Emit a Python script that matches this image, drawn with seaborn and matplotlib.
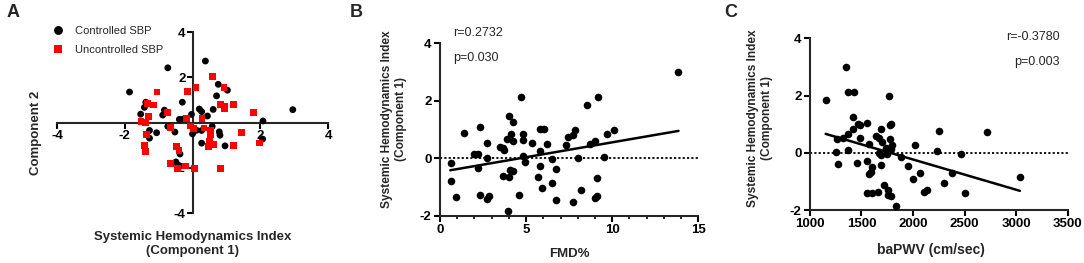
import matplotlib
matplotlib.use("Agg")
import matplotlib.pyplot as plt
from matplotlib.ticker import MultipleLocator
import seaborn as sns
import pandas as pd

# --- panel A: component scores by SBP control ---
ctrl_x = [-1.86, -0.73, 0.38, 0.76, 1.03, 0.71, -1.38, -1.42, -1.53, -0.83,
          -0.88, -0.30, -0.39, -0.29, -0.03, 0.20, 0.27, 0.44, 0.61, -0.73,
          -0.52, -1.06, -1.27, -1.27, 0.0, 0.12, 0.27, 0.58, 0.79, 0.81,
          0.27, 0.96, 2.08, 2.07, 2.96, -0.37, -0.49, -0.40]
ctrl_y = [1.35, 2.42, 2.72, 1.69, 1.43, 1.18, 0.90, 0.67, 0.37, 0.55,
          0.33, 0.90, 0.14, 0.15, 0.36, 0.60, 0.48, 0.29, 0.58, -0.17,
          -0.42, -0.45, -0.35, -0.69, -0.50, -0.34, -0.35, -0.17, -0.41, -0.56,
          -0.91, -1.03, 0.07, -0.73, 0.57, -1.39, -1.74, -1.90]
unctrl_x = [0.58, 0.93, 0.10, -0.15, -1.05, -1.32, -1.14, 0.83, 0.96, 0.94,
            1.22, 1.81, -0.73, -1.30, -1.52, -1.38, -1.36, -0.65, -0.17, -0.07,
            0.02, 0.28, 0.34, 0.52, 0.54, 0.50, 0.63, 0.47, 1.22, 1.45,
            1.98, -1.42, -1.38, -0.48, -0.40, -0.65, -0.44, -0.20, 0.07, 0.83]
unctrl_y = [2.04, 1.55, 1.54, 1.38, 1.35, 0.86, 0.78, 0.81, 0.70, 0.63,
            0.80, 0.43, 0.44, 0.26, 0.04, 0.0, -0.52, -0.23, 0.17, -0.15,
            -0.28, 0.18, -0.24, -0.33, -0.55, -0.82, -0.97, -1.07, -1.02, -0.43,
            -0.90, -1.0, -1.28, -1.07, -1.25, -1.81, -2.02, -1.92, -2.04, -2.02]

# --- panel B: FMD% vs component 1 ---
fmd = [0.62, 0.62, 0.91, 1.41, 1.99, 2.21, 2.21, 2.32, 2.32, 2.71,
       2.73, 2.71, 2.83, 3.50, 3.64, 3.74, 3.64, 4.03, 3.89, 4.10,
       4.22, 4.22, 4.03, 4.06, 4.25, 3.93, 4.72, 4.80, 4.80, 4.84,
       4.92, 4.61, 5.32, 5.71, 5.81, 5.83, 5.83, 6.02, 5.90, 6.21,
       6.52, 6.50, 6.72, 6.72, 7.30, 7.45, 7.74, 7.82, 7.70, 8.03,
       8.19, 8.52, 8.71, 8.98, 9.19, 9.14, 9.00, 9.14, 9.50, 9.72,
       10.12, 13.80]
fmd_shi = [-0.15, -0.81, -1.36, 0.87, 0.16, 0.14, -0.35, 1.07, -1.28, 0.52,
           0.01, -1.42, -1.33, 0.39, 0.34, 0.30, -0.61, 1.48, 0.66, 0.85,
           1.25, 0.61, -0.67, -0.41, -0.44, -1.83, 2.12, 0.85, 0.65, 0.09,
           -0.12, -1.28, 0.52, -0.67, -0.26, 0.26, 1.02, 1.02, -1.02, 0.48,
           -0.03, -0.87, -0.37, -1.46, 0.45, 0.75, 0.81, 0.99, -1.51, 0.00,
           -1.11, 1.84, 0.50, 0.60, 2.12, -0.68, -1.37, -1.33, 0.05, 0.85,
           0.99, 2.99]
fmd_fit_x = [0.6, 13.85]
fmd_fit_y = [-0.42, 0.95]

# --- panel C: baPWV vs component 1 ---
pwv = [1152, 1349, 1365, 1424, 1417, 1763, 1462, 1488, 1553, 1420,
       1365, 1323, 1265, 1482, 1372, 1255, 1272, 1453, 1572, 1640,
       1669, 1692, 1776, 1786, 1702, 1779, 1799, 1786, 1737, 1669,
       1689, 1750, 1689, 1556, 1598, 1589, 1572, 1883, 1951, 2022,
       2003, 2071, 2106, 2135, 1556, 1605, 1657, 1718, 1754, 1760,
       1786, 1831, 2229, 2248, 2303, 2462, 2374, 2507, 2717, 3034]
pwv_shi = [1.84, 2.98, 2.11, 2.11, 1.24, 1.99, 0.99, 0.96, 1.04, 0.83,
           0.64, 0.52, 0.48, 0.50, 0.09, 0.01, -0.38, -0.37, 0.29, 0.58,
           0.51, 0.84, 0.96, 1.01, 0.36, 0.47, 0.27, 0.12, 0.16, -0.02,
           -0.08, -0.03, -0.41, -0.29, -0.48, -0.66, -0.73, -0.14, -0.45, 0.26,
           -0.90, -0.72, -1.36, -1.29, -1.40, -1.40, -1.36, -1.13, -1.31, -1.48,
           -1.50, -1.85, 0.06, 0.77, -1.05, -0.06, -0.70, -1.39, 0.71, -0.84]
pwv_fit_x = [1152, 3037]
pwv_fit_y = [0.66, -1.33]

ylab = "Systemic Hemodynamics Index\n(Component 1)"

sns.set_theme(style="ticks")
plt.rcParams['font.family'] = ['Liberation Sans', 'DejaVu Sans']
plt.rcParams['axes.unicode_minus'] = False
plt.rcParams['axes.linewidth'] = 1.5
for a in ('xtick', 'ytick'):
    plt.rcParams[f'{a}.major.width'] = 1.5
    plt.rcParams[f'{a}.minor.width'] = 1.2
    plt.rcParams[f'{a}.major.size'] = 4
    plt.rcParams[f'{a}.minor.size'] = 2.5
    plt.rcParams[f'{a}.color'] = 'black'

fig = plt.figure(figsize=(10.84, 2.63), dpi=100)
axA = fig.add_axes([0.0526, 0.190, 0.250, 0.688])
axB = fig.add_axes([0.4059, 0.180, 0.2383, 0.6555])
axC = fig.add_axes([0.7472, 0.2015, 0.2377, 0.6529])

tick_font = dict(fontsize=9.5, fontweight='bold')
lab_font = dict(fontsize=9.5, fontweight='bold')
ylab_font = dict(fontsize=8.6, fontweight='bold')

# panel A
dfA = pd.DataFrame({
    'c1': ctrl_x + unctrl_x,
    'c2': ctrl_y + unctrl_y,
    'grp': ['Controlled SBP'] * len(ctrl_x) + ['Uncontrolled SBP'] * len(unctrl_x),
})
sns.scatterplot(data=dfA, x='c1', y='c2', hue='grp', style='grp',
                palette={'Controlled SBP': 'black', 'Uncontrolled SBP': '#ff0000'},
                markers={'Controlled SBP': 'o', 'Uncontrolled SBP': 's'},
                s=24, linewidth=0, ax=axA, zorder=3)
axA.set_xlim(-4, 4)
axA.set_ylim(-4, 4)
axA.spines['left'].set_position(('data', 0))
axA.spines['bottom'].set_position(('data', 0))
axA.spines['top'].set_visible(False)
axA.spines['right'].set_visible(False)
axA.set_xticks([-4, -2, 2, 4])
axA.set_yticks([-4, -2, 2, 4])
axA.set_xticklabels(['-4', '-2', '2', '4'], **tick_font)
axA.set_yticklabels(['-4', '-2', '2', '4'], **tick_font)
axA.tick_params(axis='x', pad=1)
axA.tick_params(axis='y', pad=1)
axA.set_xlabel("Systemic Hemodynamics Index\n(Component 1)", **lab_font, va='top')
axA.set_ylabel("Component 2", **lab_font)
axA.xaxis.set_label_coords(0.5, -0.10)
axA.yaxis.set_label_coords(-0.056, 0.445)
sns.move_legend(axA, 'upper left', bbox_to_anchor=(-0.045, 1.075), frameon=False,
                title=None, fontsize=8, handlelength=1.0, handletextpad=1.0,
                labelspacing=0.75, markerscale=1.3, borderpad=0.2)

# panels B and C
for ax, xs, ys, fx, fy in [(axB, fmd, fmd_shi, fmd_fit_x, fmd_fit_y),
                           (axC, pwv, pwv_shi, pwv_fit_x, pwv_fit_y)]:
    ax.axhline(0, color='black', ls=(0, (1.2, 1.2)), lw=1.3, zorder=1)
    sns.scatterplot(x=xs, y=ys, color='black', s=30, linewidth=0, ax=ax, zorder=3)
    sns.lineplot(x=fx, y=fy, color='black', lw=1.8, ax=ax, zorder=2)
    ax.set_ylim(-2, 4)
    ax.set_yticks([-2, 0, 2, 4])
    ax.set_yticklabels(['-2', '0', '2', '4'], **tick_font)
    ax.spines['top'].set_visible(False)
    ax.spines['right'].set_visible(False)
    ax.tick_params(pad=2)
    ax.set_ylabel(ylab, **ylab_font)

axB.set_xlim(0, 15)
axB.set_xticks([0, 5, 10, 15])
axB.set_xticklabels(['0', '5', '10', '15'], **tick_font)
axB.xaxis.set_minor_locator(MultipleLocator(1))
axB.set_xlabel("FMD%", **lab_font, va='top')
axB.xaxis.set_label_coords(0.5, -0.185)
axB.yaxis.set_label_coords(-0.128, 0.561)
axB.text(0.05, 1.06, "r=0.2732", transform=axB.transAxes, fontsize=9, va='center')
axB.text(0.05, 0.915, "p=0.030", transform=axB.transAxes, fontsize=9, va='center')

axC.set_xlim(1000, 3500)
axC.set_xticks([1000, 1500, 2000, 2500, 3000, 3500])
axC.set_xticklabels(['1000', '1500', '2000', '2500', '3000', '3500'], **tick_font)
axC.set_xlabel("baPWV (cm/sec)", fontsize=10, fontweight='bold', va='top')
axC.xaxis.set_label_coords(0.468, -0.19)
axC.yaxis.set_label_coords(-0.143, 0.533)
axC.text(0.97, 1.008, "r=-0.3780", transform=axC.transAxes, fontsize=9,
         va='center', ha='right')
axC.text(0.97, 0.862, "p=0.003", transform=axC.transAxes, fontsize=9,
         va='center', ha='right')

for lbl, x in [('A', 0.006), ('B', 0.323), ('C', 0.668)]:
    fig.text(x, 0.985, lbl, fontsize=13, fontweight='bold', va='top')

fig.savefig("out.png", dpi=100)
